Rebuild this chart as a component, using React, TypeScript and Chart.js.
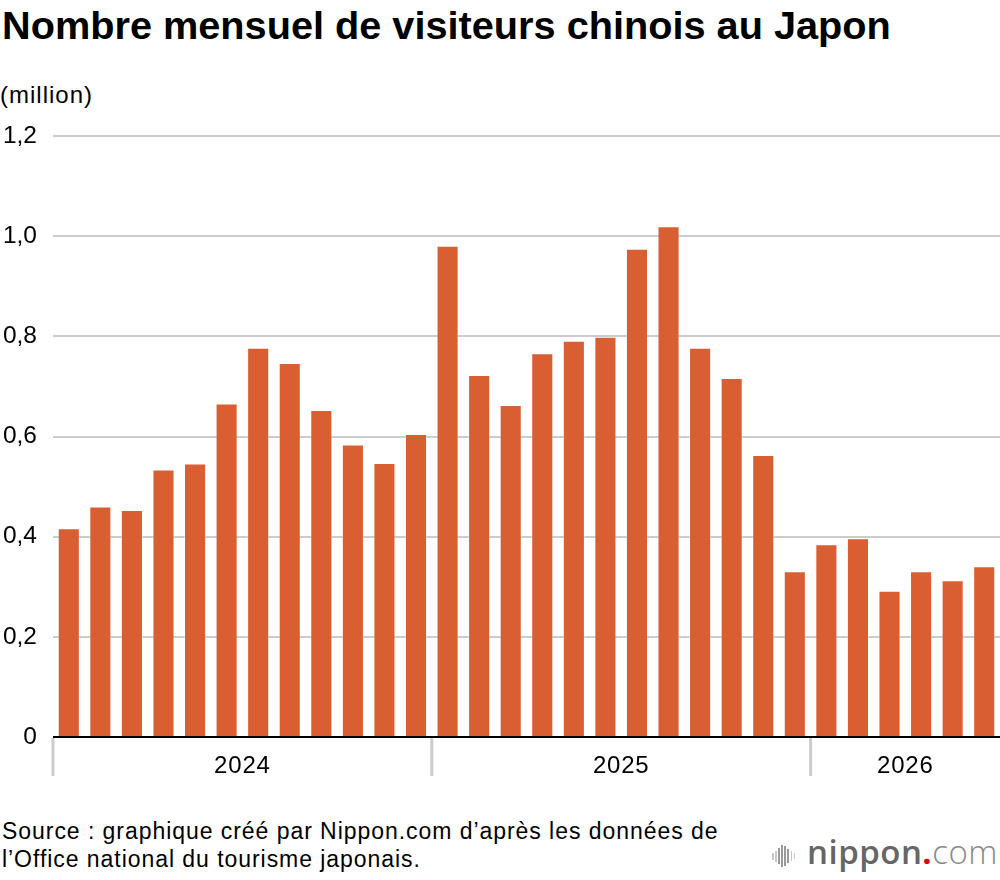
import React, { useEffect, useRef } from "react";
import { Chart, registerables } from "chart.js";

Chart.register(...registerables);

const months: string[] = [
  "2024-01", "2024-02", "2024-03", "2024-04", "2024-05", "2024-06",
  "2024-07", "2024-08", "2024-09", "2024-10", "2024-11", "2024-12",
  "2025-01", "2025-02", "2025-03", "2025-04", "2025-05", "2025-06",
  "2025-07", "2025-08", "2025-09", "2025-10", "2025-11", "2025-12",
  "2026-01", "2026-02", "2026-03", "2026-04", "2026-05", "2026-06",
];

const visitors: number[] = [
  0.417, 0.46, 0.453, 0.534, 0.546, 0.666, 0.777, 0.747, 0.653, 0.584, 0.547, 0.605,
  0.981, 0.723, 0.663, 0.766, 0.791, 0.799, 0.975, 1.02, 0.777, 0.717, 0.563, 0.331,
  0.385, 0.397, 0.292, 0.331, 0.313, 0.341,
];

const years: string[] = ["2024", "2025", "2026"];
const yearStarts: number[] = [0, 12, 24];
const yearCounts: number[] = [12, 12, 6];

const yTickLabels: string[] = ["0", "0,2", "0,4", "0,6", "0,8", "1,0", "1,2"];

const FONT = "'Liberation Sans', Arial, Helvetica, sans-serif";

const yearPlugin = {
  id: "yearGroups",
  afterDraw(chart: any) {
    const ctx = chart.ctx;
    const x = chart.scales.x;
    const area = chart.chartArea;
    const half = (x.getPixelForValue(1) - x.getPixelForValue(0)) / 2;
    ctx.save();
    ctx.strokeStyle = "#000000";
    ctx.lineWidth = 2;
    ctx.beginPath();
    ctx.moveTo(area.left, area.bottom);
    ctx.lineTo(area.right, area.bottom);
    ctx.stroke();
    years.forEach((yr, i) => {
      const s = yearStarts[i];
      const e = s + yearCounts[i] - 1;
      const left = x.getPixelForValue(s) - half;
      const right = x.getPixelForValue(e) + half;
      ctx.strokeStyle = "#cccccc";
      ctx.lineWidth = 3;
      ctx.beginPath();
      ctx.moveTo(left, area.bottom + 1);
      ctx.lineTo(left, area.bottom + 39);
      ctx.stroke();
      ctx.fillStyle = "#000000";
      ctx.font = `24px ${FONT}`;
      try {
        (ctx as any).letterSpacing = "0.8px";
      } catch (err) {}
      ctx.textAlign = "center";
      ctx.textBaseline = "middle";
      ctx.fillText(yr, (left + right) / 2, area.bottom + 29);
    });
    ctx.restore();
  },
};

export default function App() {
  const ref = useRef<HTMLCanvasElement | null>(null);

  useEffect(() => {
    if (!ref.current) return;
    const chart = new Chart(ref.current, {
      type: "bar",
      data: {
        labels: months,
        datasets: [
          {
            data: visitors,
            backgroundColor: "#D95F33",
            borderColor: "rgba(255,255,255,0.35)",
            borderWidth: 1,
            barPercentage: 0.7,
            categoryPercentage: 1,
          },
        ],
      },
      options: {
        animation: false,
        responsive: false,
        maintainAspectRatio: false,
        devicePixelRatio: 1,
        layout: { padding: { top: 36, bottom: 63, left: 0, right: 0 } },
        plugins: {
          legend: { display: false },
          tooltip: { enabled: false },
          title: { display: false },
        },
        scales: {
          x: {
            display: false,
          },
          y: {
            min: 0,
            max: 1.2,
            afterFit(scale: any) {
              scale.width = 53;
            },
            ticks: {
              stepSize: 0.2,
              padding: 16,
              color: "#000000",
              font: { size: 24.5, family: FONT },
              callback: (_v: any, i: number) => yTickLabels[i],
            },
            grid: {
              color: "#cccccc",
              lineWidth: 2,
              drawTicks: false,
            },
            border: { display: false },
          },
        },
      },
      plugins: [yearPlugin],
    });
    return () => chart.destroy();
  }, []);

  return (
    <div
      style={{
        position: "absolute",
        left: 0,
        top: 0,
        width: 1000,
        height: 880,
        background: "#ffffff",
        fontFamily: FONT,
        color: "#000",
      }}
    >
      <div
        style={{
          position: "absolute",
          left: 2,
          top: 5,
          fontSize: 39.7,
          lineHeight: "40px",
          fontWeight: 700,
          whiteSpace: "nowrap",
        }}
      >
        Nombre mensuel de visiteurs chinois au Japon
      </div>
      <div
        style={{
          position: "absolute",
          left: 0,
          top: 82,
          fontSize: 24,
          lineHeight: "26px",
          letterSpacing: 1,
          whiteSpace: "nowrap",
        }}
      >
        (million)
      </div>
      <canvas
        ref={ref}
        width={1000}
        height={700}
        style={{ position: "absolute", left: 0, top: 100, width: 1000, height: 700 }}
      />
      <div
        style={{
          position: "absolute",
          left: 2,
          top: 818,
          fontSize: 23,
          lineHeight: "27.7px",
          letterSpacing: 0.95,
          whiteSpace: "nowrap",
        }}
      >
        <div>Source : graphique créé par Nippon.com d’après les données de</div>
        <div>l’Office national du tourisme japonais.</div>
      </div>
      <div
        style={{
          position: "absolute",
          left: 772,
          top: 845,
          height: 22,
          width: 26,
          display: "flex",
          alignItems: "center",
          gap: 1.6,
        }}
      >
        {[7, 11, 16, 22, 20, 14, 10, 6].map((h, i) => (
          <div
            key={i}
            style={{
              width: 1.5,
              height: h,
              background: i < 2 || i > 5 ? "#c8c8c8" : "#9a9a9a",
            }}
          />
        ))}
      </div>
      <div
        style={{
          position: "absolute",
          left: 807,
          top: 832,
          fontFamily: "'Open Sans', sans-serif",
          fontSize: 33,
          lineHeight: "40px",
          whiteSpace: "nowrap",
          letterSpacing: 0.5,
        }}
      >
        <span style={{ fontWeight: 600, color: "#666666" }}>nippon</span>
        <span style={{ fontWeight: 700, color: "#e60012" }}>.</span>
        <span style={{ fontWeight: 300, color: "#8a8a8a" }}>com</span>
      </div>
    </div>
  );
}
